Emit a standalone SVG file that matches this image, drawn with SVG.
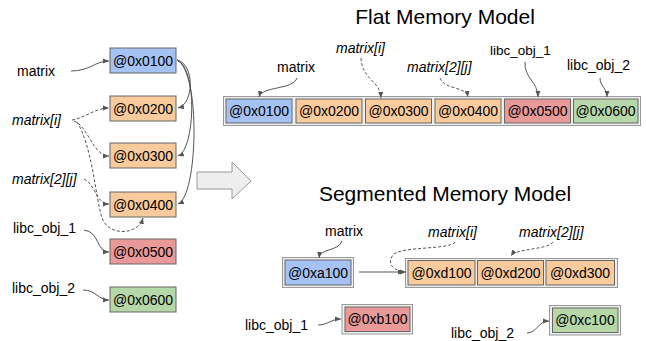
<svg xmlns="http://www.w3.org/2000/svg" width="646" height="341" viewBox="0 0 646 341">
<defs>
<marker id="ah" markerUnits="userSpaceOnUse" markerWidth="7" markerHeight="6" refX="6" refY="3" orient="auto"><path d="M0,0.5 L6,3 L0,5.5 z" fill="#555"/></marker>
<style>
text{font-family:"Liberation Sans",Arial,sans-serif;font-size:14px;fill:#000}
.it{font-style:italic}
.sm{font-size:13.5px}
.ttl{font-size:21px}
.c{text-anchor:middle}
.box{stroke:#666;stroke-width:1}
.blue{fill:#a4c2f4}.orange{fill:#f9cb9c}.red{fill:#ea9999}.green{fill:#b6d7a8}
.grp{fill:#eeeeee;stroke:#999;stroke-width:1}
.ln{fill:none;stroke:#555;stroke-width:1;marker-end:url(#ah)}
.dash{stroke-dasharray:3,2}
</style>
</defs>
<rect width="646" height="341" fill="#fff"/>

<g id="left-labels">
<text x="17" y="76">matrix</text>
<text x="12" y="125" class="it">matrix[i]</text>
<text x="12" y="184" class="it">matrix[2][j]</text>
<text x="13" y="233">libc_obj_1</text>
<text x="12" y="293">libc_obj_2</text>
</g>
<g id="left-0100"><rect x="110" y="48" width="66" height="25" class="box blue"/><text x="143" y="65.5" class="c">@0x0100</text></g>
<g id="left-0200"><rect x="110" y="96" width="66" height="25" class="box orange"/><text x="143" y="113.5" class="c">@0x0200</text></g>
<g id="left-0300"><rect x="110" y="143" width="66" height="25" class="box orange"/><text x="143" y="160.5" class="c">@0x0300</text></g>
<g id="left-0400"><rect x="110" y="192" width="66" height="25" class="box orange"/><text x="143" y="209.5" class="c">@0x0400</text></g>
<g id="left-0500"><rect x="110" y="239" width="66" height="25" class="box red"/><text x="143" y="256.5" class="c">@0x0500</text></g>
<g id="left-0600"><rect x="110" y="287" width="66" height="25" class="box green"/><text x="143" y="304.5" class="c">@0x0600</text></g>

<g id="big-arrow"><path d="M197,172 L232,172 L232,162 L251,181 L232,199 L232,189 L197,189 z" fill="#eeeeee" stroke="#999" stroke-width="1"/></g>

<g id="flat-title"><text x="445" y="24" class="ttl c">Flat Memory Model</text></g>
<g id="flat-labels">
<text x="277" y="72">matrix</text>
<text x="336" y="53" class="it">matrix[i]</text>
<text x="407" y="72" class="it">matrix[2][j]</text>
<text x="490" y="55" class="sm">libc_obj_1</text>
<text x="567" y="70">libc_obj_2</text>
</g>
<g id="flat-group"><rect x="223.5" y="96.5" width="417" height="29" class="grp"/></g>
<g id="flat-0100"><rect x="226" y="99" width="66" height="24" class="box blue"/><text x="259" y="116" class="c">@0x0100</text></g>
<g id="flat-0200"><rect x="296" y="99" width="66" height="24" class="box orange"/><text x="329" y="116" class="c">@0x0200</text></g>
<g id="flat-0300"><rect x="365.5" y="99" width="66" height="24" class="box orange"/><text x="398.5" y="116" class="c">@0x0300</text></g>
<g id="flat-0400"><rect x="435" y="99" width="66" height="24" class="box orange"/><text x="468" y="116" class="c">@0x0400</text></g>
<g id="flat-0500"><rect x="504.5" y="99" width="66" height="24" class="box red"/><text x="537.5" y="116" class="c">@0x0500</text></g>
<g id="flat-0600"><rect x="573.5" y="99" width="64.5" height="24" class="box green"/><text x="605.5" y="116" class="c">@0x0600</text></g>

<g id="seg-title"><text x="445" y="201" class="ttl c">Segmented Memory Model</text></g>
<g id="seg-labels">
<text x="325" y="236">matrix</text>
<text x="428" y="237" class="it">matrix[i]</text>
<text x="519" y="237" class="it">matrix[2][j]</text>
<text x="245" y="330">libc_obj_1</text>
<text x="451" y="338">libc_obj_2</text>
</g>
<g id="seg-a100"><rect x="282.5" y="257.5" width="71" height="30" class="grp"/><rect x="285" y="260" width="66" height="25" class="box blue"/><text x="318" y="277.5" class="c">@0xa100</text></g>
<g id="seg-dgroup"><rect x="405.5" y="258.5" width="212" height="29" class="grp"/></g>
<g id="seg-d100"><rect x="408" y="260.5" width="67" height="24.5" class="box orange"/><text x="441.5" y="277.5" class="c">@0xd100</text></g>
<g id="seg-d200"><rect x="477.5" y="260.5" width="66" height="24.5" class="box orange"/><text x="510.5" y="277.5" class="c">@0xd200</text></g>
<g id="seg-d300"><rect x="546" y="260.5" width="68.5" height="24.5" class="box orange"/><text x="580" y="277.5" class="c">@0xd300</text></g>
<g id="seg-b100"><rect x="342" y="304.5" width="70.5" height="29.5" class="grp"/><rect x="345" y="307" width="65" height="24.5" class="box red"/><text x="377.5" y="324" class="c">@0xb100</text></g>
<g id="seg-c100"><rect x="549.5" y="305.5" width="71" height="29.5" class="grp"/><rect x="552.5" y="308" width="65.5" height="24.5" class="box green"/><text x="585" y="325" class="c">@0xc100</text></g>

<g id="connectors">
<path class="ln" d="M71,71 C90,71 95,61 109,61"/>
<path class="ln dash" d="M72,120 C85,118 95,108 109,108"/>
<path class="ln dash" d="M74,121 C88,126 93,156 109,156"/>
<path class="ln dash" d="M77,122 C92,145 96,200 102,218 C108,236 138,236 143,218"/>
<path class="ln dash" d="M84,179 C96,185 96,204 109,204"/>
<path class="ln" d="M177,60 C195,64 194,104 178,108"/>
<path class="ln" d="M177,60 C198,68 195,150 178,156"/>
<path class="ln" d="M177,60 C201,72 198,196 178,204"/>
<path class="ln" d="M84,230 C100,232 96,252 109,252"/>
<path class="ln" d="M83,290 C96,290 98,300 109,300"/>

<path class="ln" d="M297,78 C293,90 262,86 259,97"/>
<path class="ln dash" d="M361,58 C362,80 380,80 381,98"/>
<path class="ln dash" d="M440,78 C444,90 466,86 468,97"/>
<path class="ln" d="M525,62 C524,78 538,82 538,97"/>
<path class="ln" d="M600,78 C600,86 607,88 607,97"/>

<path class="ln" d="M342,241 C338,252 320,248 319,258"/>
<path class="ln" d="M359,272 L404,272"/>
<path class="ln dash" d="M455,242 C450,250 400,246 393,255 C385,266 398,272 406,272"/>
<path class="ln dash" d="M553,242 C548,250 516,248 511,256"/>
<path class="ln" d="M318,325 C328,325 331,319 341,319"/>
<path class="ln" d="M527,333 C537,333 538,321 549,321"/>
</g>
</svg>
